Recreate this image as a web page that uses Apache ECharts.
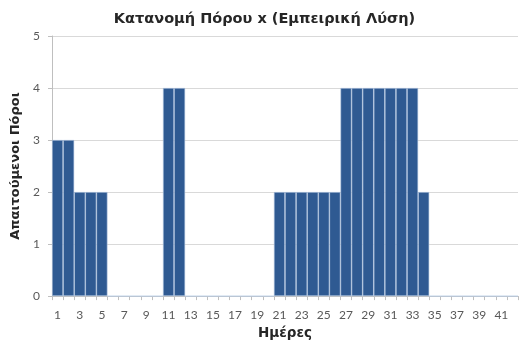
<!DOCTYPE html>
<html><head><meta charset="utf-8">
<script src="https://cdn.jsdelivr.net/npm/echarts@6/dist/echarts.min.js"></script>
<style>html,body{margin:0;padding:0;background:#fff}#c{width:529px;height:345px}</style>
</head><body><div id="c"></div>
<script>
const days = Array.from({length:42},(_,i)=>String(i+1));
const resources = [3,3,2,2,2,0,0,0,0,0,4,4,0,0,0,0,0,0,0,0,2,2,2,2,2,2,4,4,4,4,4,4,4,2,0,0,0,0,0,0,0,0];
const yTicks = [0,1,2,3,4,5];
const F = '"DejaVu Sans", sans-serif';
const chart = echarts.init(document.getElementById('c'));
chart.setOption({
  animation:false,
  title:{text:'Κατανομή Πόρου x (Εμπειρική Λύση)',left:'center',top:7,
    textStyle:{fontFamily:F,fontSize:14.5,fontWeight:'bold',color:'#262626'}},
  grid:{left:52,right:11,top:36,bottom:48},
  xAxis:{type:'category',data:days,name:'Ημέρες',nameLocation:'middle',nameGap:29,
    nameTextStyle:{fontFamily:F,fontSize:13.5,fontWeight:'bold',color:'#262626'},
    axisLine:{lineStyle:{color:'#bfbfbf'}},
    axisTick:{show:true,interval:0,length:4,lineStyle:{color:'#bfbfbf'}},
    axisLabel:{interval:1,color:'#595959',fontSize:12,fontFamily:'Lato, sans-serif',margin:13}},
  yAxis:{type:'value',min:yTicks[0],max:yTicks[yTicks.length-1],interval:1,
    name:'Απαιτούμενοι Πόροι',nameLocation:'middle',nameGap:28,
    nameTextStyle:{fontFamily:F,fontSize:13,fontWeight:'bold',color:'#262626'},
    axisLine:{show:true,lineStyle:{color:'#bfbfbf'}},
    axisTick:{show:true,length:4,lineStyle:{color:'#bfbfbf'}},
    splitLine:{lineStyle:{color:'#d9d9d9'}},
    axisLabel:{color:'#595959',fontSize:12,fontFamily:'Lato, sans-serif',margin:12}},
  series:[{type:'bar',data:resources,barCategoryGap:'0%',
    itemStyle:{color:'#2f5a92',borderColor:'#b8cbe4',borderWidth:0.6}}]
});
</script></body></html>
